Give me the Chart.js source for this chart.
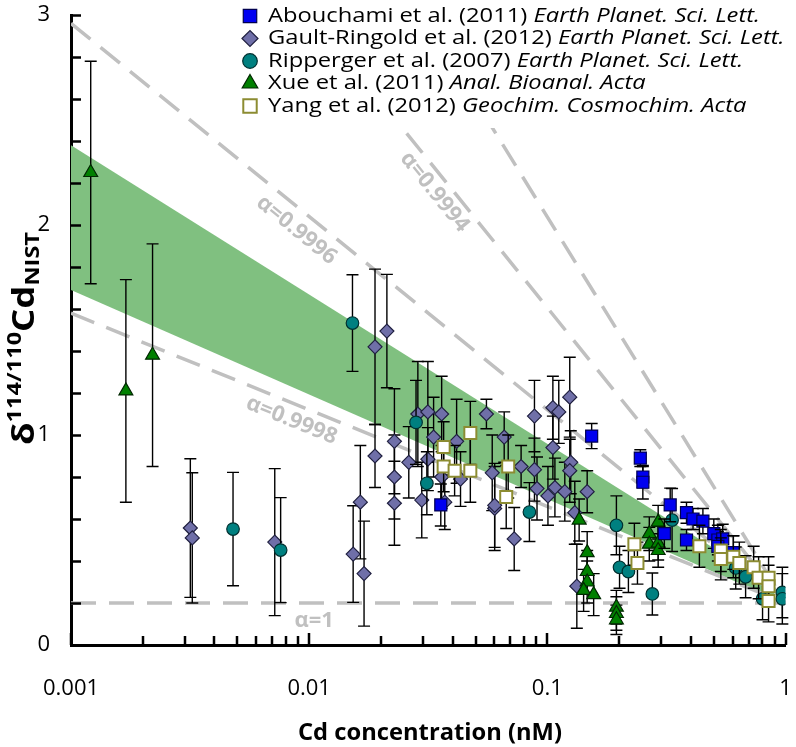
<!DOCTYPE html>
<html>
<head>
<meta charset="utf-8">
<script src="https://cdn.jsdelivr.net/npm/chart.js@4.4.1/dist/chart.umd.min.js"></script>
<style>
  body { margin: 0; background: #fff; }
  #chart { display: block; }
</style>
</head>
<body>
<canvas id="chart" width="796" height="747"></canvas>
<script>
// axis ticks
const xTickValues = [0.001, 0.01, 0.1, 1];
const yTickValues = [0, 1, 2, 3];

// Abouchami et al. (2011)
const abouchamiX = [0.0357, 0.1535, 0.2457, 0.2518, 0.2518, 0.328, 0.31, 0.384, 0.409, 0.45, 0.384, 0.50, 0.52, 0.545, 0.52, 0.604];
const abouchamiY = [0.667, 0.995, 0.89, 0.80, 0.775, 0.667, 0.53, 0.63, 0.60, 0.59, 0.50, 0.53, 0.50, 0.505, 0.47, 0.44];
const abouchamiErr = [0.1, 0.06, 0.04, 0.05, 0.08, 0.08, 0.07, 0.05, 0.05, 0.06, 0.05, 0.07, 0.07, 0.07, 0.07, 0.08];

// Gault-Ringold et al. (2012)
const gaultX = [0.00317, 0.00323, 0.00717, 0.0153, 0.0164, 0.0170, 0.0189, 0.0189, 0.0212, 0.0228, 0.0228, 0.0228,
  0.0262, 0.0286, 0.0315, 0.0333, 0.036, 0.0315, 0.0297, 0.036, 0.0371, 0.0416, 0.0432, 0.0555, 0.0587, 0.0601,
  0.0601, 0.0659, 0.0726, 0.0776, 0.0883, 0.0883, 0.0905, 0.1055, 0.1117, 0.1055, 0.1006, 0.1076, 0.1184, 0.1242,
  0.1254, 0.1242, 0.1304, 0.133, 0.147];
const gaultY = [0.557, 0.51, 0.49, 0.433, 0.68, 0.34, 1.42, 0.90, 1.495, 0.97, 0.80, 0.675,
  0.87, 1.10, 1.11, 0.99, 1.10, 0.885, 0.69, 0.80, 0.68, 0.97, 0.79, 1.10, 0.82, 0.65,
  0.665, 0.99, 0.505, 0.85, 1.09, 0.835, 0.745, 1.13, 1.11, 0.94, 0.71, 0.75, 0.73, 1.18,
  0.87, 0.83, 0.63, 0.28, 0.73];
const gaultErr = [0.33, 0.31, 0.35, 0.23, 0.27, 0.25, 0.37, 0.15, 0.27, 0.25, 0.2, 0.2,
  0.17, 0.25, 0.24, 0.19, 0.18, 0.15, 0.18, 0.15, 0.13, 0.2, 0.13, 0.07, 0.18, 0.2,
  0.2, 0.12, 0.15, 0.1, 0.17, 0.15, 0.15, 0.15, 0.15, 0.15, 0.14, 0.14, 0.14, 0.19,
  0.15, 0.15, 0.15, 0.2, 0.1];

// Ripperger et al. (2007)
const rippergerX = [0.00479, 0.00759, 0.0152, 0.0281, 0.0312, 0.0841, 0.195, 0.201, 0.219, 0.276, 0.334, 0.618, 0.68, 0.801, 0.97, 0.97];
const rippergerY = [0.552, 0.452, 1.533, 1.06, 0.77, 0.633, 0.57, 0.37, 0.35, 0.243, 0.595, 0.367, 0.325, 0.22, 0.25, 0.22];
const rippergerErr = [0.27, 0.25, 0.23, 0.2, 0.15, 0.14, 0.14, 0.1, 0.1, 0.1, 0.15, 0.1, 0.1, 0.1, 0.12, 0.12];

// Xue et al. (2011)
const xueX = [0.00121, 0.0017, 0.0022, 0.136, 0.147, 0.147, 0.147, 0.142, 0.1565, 0.195, 0.195, 0.195, 0.268, 0.268, 0.292, 0.292, 0.292];
const xueY = [2.25, 1.21, 1.38, 0.595, 0.44, 0.35, 0.30, 0.26, 0.24, 0.18, 0.15, 0.12, 0.53, 0.48, 0.585, 0.485, 0.45];
const xueErr = [0.53, 0.53, 0.53, 0.1, 0.1, 0.1, 0.1, 0.1, 0.1, 0.08, 0.08, 0.07, 0.08, 0.08, 0.08, 0.08, 0.08];

// Yang et al. (2012)
const yangX = [0.0367, 0.0367, 0.0408, 0.0475, 0.0475, 0.0685, 0.0672, 0.232, 0.239, 0.435, 0.535, 0.535, 0.604, 0.64, 0.735, 0.771, 0.849, 0.849, 0.849];
const yangY = [0.943, 0.85, 0.83, 1.01, 0.83, 0.85, 0.705, 0.48, 0.39, 0.47, 0.45, 0.41, 0.42, 0.39, 0.37, 0.32, 0.32, 0.28, 0.21];
const yangErr = [0.12, 0.12, 0.12, 0.15, 0.15, 0.15, 0.15, 0.1, 0.1, 0.1, 0.1, 0.1, 0.1, 0.1, 0.1, 0.1, 0.1, 0.1, 0.1];

// green band
const bandX = [0.001, 0.9];
const bandUpper = [2.38, 0.28];
const bandLower = [1.69, 0.22];

// Rayleigh reference lines
const alphaStartX = [0.001, 0.001, 0.001, 0.0102, 0.03];
const alphaStartY = [0.2, 1.58, 2.96, 3.0, 3.0];
const alphaEndX = [1, 1, 1, 1, 1];
const alphaEndY = [0.2, 0.2, 0.2, 0.2, 0.2];
const alphaNames = ['α=1', 'α=0.9998', 'α=0.9996', 'α=0.9994', ''];
const alphaLabelX = [0.0105, 0.00843, 0.00885, 0.0336, null];
const alphaLabelY = [0.114, 1.07, 1.976, 2.157, null];

// legend
const legendAuthors = ['Abouchami et al. (2011) ', 'Gault-Ringold et al. (2012) ', 'Ripperger et al. (2007) ', 'Xue et al. (2011) ', 'Yang et al. (2012) '];
const legendJournals = ['Earth Planet. Sci. Lett.', 'Earth Planet. Sci. Lett.', 'Earth Planet. Sci. Lett.', 'Anal. Bioanal. Acta', 'Geochim. Cosmochim. Acta'];

const FONT = '"Open Sans", "Noto Sans", sans-serif';
const GREY = '#c0c0c0';

const pts = (xs, ys) => xs.map((x, i) => ({ x: x, y: ys[i] }));

const series = [
  { data: pts(abouchamiX, abouchamiY), errors: abouchamiErr, pointStyle: 'rect', pointRadius: 8.5, backgroundColor: '#0000f0', borderColor: '#000050', borderWidth: 1.2, order: 2 },
  { data: pts(gaultX, gaultY), errors: gaultErr, pointStyle: 'rectRot', pointRadius: 7, backgroundColor: '#6f6fa8', borderColor: '#202040', borderWidth: 1.2, order: 6 },
  { data: pts(rippergerX, rippergerY), errors: rippergerErr, pointStyle: 'circle', pointRadius: 6.3, backgroundColor: '#008080', borderColor: '#003030', borderWidth: 1.2, order: 5 },
  { data: pts(xueX, xueY), errors: xueErr, pointStyle: 'triangle', pointRadius: 8, backgroundColor: '#008000', borderColor: '#002800', borderWidth: 1.2, order: 3 },
  { data: pts(yangX, yangY), errors: yangErr, pointStyle: 'rect', pointRadius: 8.5, backgroundColor: '#ffffff', borderColor: '#8c8c32', borderWidth: 2, order: 1 }
];

const datasets = [
  { data: pts(bandX, bandLower), showLine: true, borderColor: 'rgba(0,0,0,0)', borderWidth: 0, pointRadius: 0, fill: false, order: 30 },
  { data: pts(bandX, bandUpper), showLine: true, borderColor: 'rgba(0,0,0,0)', borderWidth: 0, pointRadius: 0, fill: '-1', backgroundColor: '#80c080', order: 29 }
];
alphaStartX.forEach((x0, i) => {
  datasets.push({
    data: [{ x: x0, y: alphaStartY[i] }, { x: alphaEndX[i], y: alphaEndY[i] }],
    showLine: true, borderColor: GREY, borderWidth: 3.5, borderDash: [25, 13],
    pointRadius: 0, fill: false, order: 20 - i
  });
});
series.forEach(s => datasets.push(s));

// error bars, drawn just below each series' markers
const errorBars = {
  id: 'errorBars',
  beforeDatasetDraw(chart, args) {
    const ds = chart.data.datasets[args.index];
    if (!ds.errors) return;
    const { ctx, scales: { x, y } } = chart;
    ctx.save();
    ctx.strokeStyle = '#000';
    ctx.lineWidth = 1.4;
    ds.data.forEach((p, i) => {
      const e = ds.errors[i];
      const px = x.getPixelForValue(p.x);
      const y1 = y.getPixelForValue(p.y + e);
      const y2 = y.getPixelForValue(p.y - e);
      ctx.beginPath();
      ctx.moveTo(px, y1); ctx.lineTo(px, y2);
      ctx.moveTo(px - 6, y1); ctx.lineTo(px + 6, y1);
      ctx.moveTo(px - 6, y2); ctx.lineTo(px + 6, y2);
      ctx.stroke();
    });
    ctx.restore();
  }
};

// text squeezed or stretched along its baseline to a given length
function fitText(ctx, text, x, y, width) {
  const w = ctx.measureText(text).width;
  ctx.save();
  ctx.translate(x, y);
  ctx.scale(width / w, 1);
  ctx.fillText(text, 0, 0);
  ctx.restore();
}

// labels on the reference lines, legend box, inward ticks, axis titles
const decorations = {
  id: 'decorations',
  afterDatasetsDraw(chart) {
    const { ctx, scales: { x, y } } = chart;

    // alpha labels, rotated along their line
    ctx.save();
    ctx.fillStyle = GREY;
    ctx.font = 'bold 22px ' + FONT;
    ctx.textAlign = 'center';
    ctx.textBaseline = 'middle';
    alphaNames.forEach((name, i) => {
      if (!name) return;
      const ax = x.getPixelForValue(alphaStartX[i]), ay = y.getPixelForValue(alphaStartY[i]);
      const bx = x.getPixelForValue(alphaEndX[i]), by = y.getPixelForValue(alphaEndY[i]);
      const ang = Math.atan2(by - ay, bx - ax);
      ctx.save();
      ctx.translate(x.getPixelForValue(alphaLabelX[i]), y.getPixelForValue(alphaLabelY[i]));
      ctx.rotate(ang);
      ctx.fillText(name, 0, 0);
      ctx.restore();
    });
    ctx.restore();

    // legend
    ctx.save();
    ctx.fillStyle = '#fff';
    ctx.fillRect(228, 0, 568, 128);
    const lx = 250, ly0 = 16, dy = 22.5;
    ctx.font = '20px ' + FONT;
    const w0 = ctx.measureText(legendAuthors[0]).width;
    ctx.font = 'italic 20px ' + FONT;
    const stretch = 492 / (w0 + ctx.measureText(legendJournals[0]).width);
    series.forEach((s, i) => {
      const yy = ly0 + i * dy;
      ctx.fillStyle = s.backgroundColor;
      ctx.strokeStyle = s.borderColor;
      ctx.lineWidth = s.borderWidth;
      Chart.helpers.drawPoint(ctx, { pointStyle: s.pointStyle, radius: s.pointRadius + 1, borderWidth: s.borderWidth, rotation: 0 }, lx, yy);
      ctx.save();
      ctx.translate(268, yy);
      ctx.scale(stretch, 1);
      ctx.fillStyle = '#000';
      ctx.textBaseline = 'middle';
      ctx.textAlign = 'left';
      ctx.font = '20px ' + FONT;
      ctx.fillText(legendAuthors[i], 0, 0);
      const w = ctx.measureText(legendAuthors[i]).width;
      ctx.font = 'italic 20px ' + FONT;
      ctx.fillText(legendJournals[i], w, 0);
      ctx.restore();
    });
    ctx.restore();
  },
  afterDraw(chart) {
    const { ctx, chartArea: a, scales: { x, y } } = chart;
    ctx.save();
    ctx.strokeStyle = '#000';
    ctx.lineWidth = 2.5;
    ctx.beginPath();
    // y ticks every 0.2
    for (let k = 0; k <= 15; k++) {
      const py = Math.round(y.getPixelForValue(k * 0.2)) + 0.5;
      ctx.moveTo(a.left, py); ctx.lineTo(a.left + 10, py);
    }
    // x ticks 1..9 per decade
    for (let d = 0; d < xTickValues.length - 1; d++) {
      for (let m = 1; m <= 9; m++) {
        const px = Math.round(x.getPixelForValue(xTickValues[d] * m));
        ctx.moveTo(px, a.bottom); ctx.lineTo(px, a.bottom - (m === 1 ? 12 : 9));
      }
    }
    const pEnd = Math.round(x.getPixelForValue(1));
    ctx.moveTo(pEnd, a.bottom); ctx.lineTo(pEnd, a.bottom - 12);
    ctx.stroke();

    // x title
    ctx.fillStyle = '#000';
    ctx.font = 'bold 24px ' + FONT;
    ctx.textAlign = 'left';
    ctx.textBaseline = 'middle';
    fitText(ctx, 'Cd concentration (nM)', 298, 733, 264);

    // y title: δ^114/110 Cd_NIST
    const parts = [
      { t: 'δ', f: 'bold 31px ' + FONT, dy: 0 },
      { t: '114/110', f: 'bold 20px ' + FONT, dy: -13 },
      { t: 'Cd', f: 'bold 31px ' + FONT, dy: 0 },
      { t: 'NIST', f: 'bold 20px ' + FONT, dy: 5 }
    ];
    let total = 0;
    parts.forEach(p => { ctx.font = p.f; p.w = ctx.measureText(p.t).width; total += p.w; });
    const k = 213 / total;
    ctx.translate(34, 445);
    ctx.rotate(-Math.PI / 2);
    ctx.scale(k, 1);
    ctx.textAlign = 'left';
    ctx.textBaseline = 'alphabetic';
    let cx = 0;
    parts.forEach(p => { ctx.font = p.f; ctx.fillText(p.t, cx, p.dy); cx += p.w; });
    ctx.restore();
  }
};

new Chart(document.getElementById('chart').getContext('2d'), {
  type: 'scatter',
  data: { datasets: datasets },
  options: {
    responsive: false,
    animation: false,
    layout: { padding: { top: 15, right: 6, left: 0, bottom: 0 } },
    plugins: { legend: { display: false }, tooltip: { enabled: false } },
    scales: {
      x: {
        type: 'logarithmic', min: 0.001, max: 1,
        grid: { display: false, drawTicks: false },
        border: { color: '#000', width: 3 },
        afterBuildTicks: s => { s.ticks = xTickValues.map(v => ({ value: v })); },
        afterFit: s => { s.height = 102; s.paddingLeft = 0; s.paddingRight = 0; },
        ticks: { color: '#000', font: { family: FONT, size: 22 }, padding: 31, maxRotation: 0, autoSkip: false, callback: v => String(v) }
      },
      y: {
        min: 0, max: 3,
        grid: { display: false, drawTicks: false },
        border: { color: '#000', width: 3 },
        afterBuildTicks: s => { s.ticks = yTickValues.map(v => ({ value: v })); },
        afterFit: s => { s.width = 71; s.paddingTop = 0; s.paddingBottom = 0; },
        ticks: { color: '#000', font: { family: FONT, size: 22 }, padding: 21 }
      }
    }
  },
  plugins: [errorBars, decorations]
});
</script>
</body>
</html>
